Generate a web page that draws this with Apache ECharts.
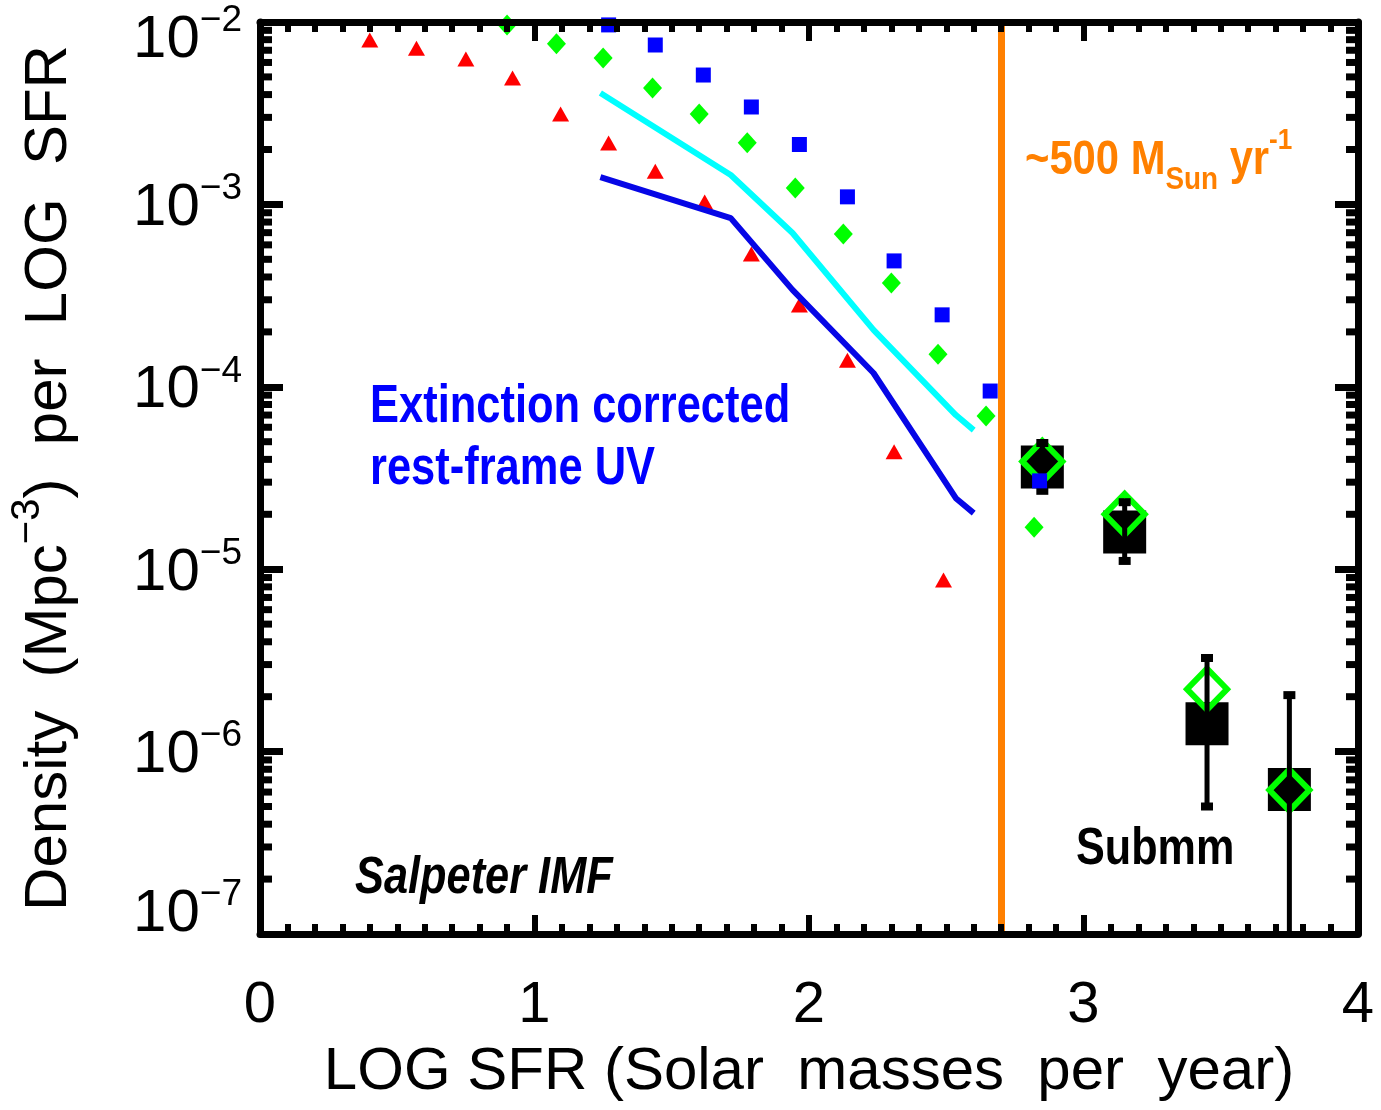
<!DOCTYPE html>
<html>
<head>
<meta charset="utf-8">
<script src="https://cdn.jsdelivr.net/npm/echarts@6/dist/echarts.min.js"></script>
<style>
  html, body { margin: 0; padding: 0; background: #fff; }
  #chart { width: 1381px; height: 1110px; }
</style>
</head>
<body>
<div id="chart"></div>
<script>
// Number density per LOG SFR (Mpc^-3) against LOG SFR (Msun / yr)

// red triangles
const redLogSfr  = [0.40, 0.57, 0.75, 0.92, 1.095, 1.27, 1.44, 1.62, 1.79, 1.965, 2.14, 2.31, 2.49];
const redDensity = [7.96e-3, 7.19e-3, 6.27e-3, 4.93e-3, 3.13e-3, 2.17e-3, 1.52e-3, 1.03e-3, 5.35e-4, 2.81e-4, 1.40e-4, 4.40e-5, 8.73e-6];

// green diamonds
const greenLogSfr  = [0.90, 1.08, 1.25, 1.43, 1.60, 1.775, 1.95, 2.125, 2.30, 2.47, 2.645, 2.82];
const greenDensity = [9.64e-3, 7.60e-3, 6.35e-3, 4.35e-3, 3.13e-3, 2.18e-3, 1.23e-3, 6.89e-4, 3.71e-4, 1.51e-4, 6.92e-5, 1.70e-5];

// blue squares
const blueLogSfr  = [1.27, 1.44, 1.615, 1.79, 1.965, 2.14, 2.31, 2.485, 2.66, 2.84];
const blueDensity = [9.64e-3, 7.48e-3, 5.12e-3, 3.42e-3, 2.13e-3, 1.10e-3, 4.90e-4, 2.48e-4, 9.48e-5, 3.05e-5];

// extinction-corrected rest-frame UV curves
const uvLogSfr       = [1.24, 1.715, 1.94, 2.235, 2.535, 2.60];
const uvCyanDensity  = [4.08e-3, 1.45e-3, 6.97e-4, 2.05e-4, 7.00e-5, 5.79e-5];
const uvBlueDensity  = [1.41e-3, 8.41e-4, 3.40e-4, 1.19e-4, 2.45e-5, 2.03e-5];

// submillimetre counts with error bars, and open-diamond comparison values
const submmLogSfr     = [2.85, 3.15, 3.45, 3.75];
const submmDensity    = [3.63e-5, 1.60e-5, 1.42e-6, 6.2e-7];
const submmErrLow     = [2.69e-5, 1.11e-5, 5.0e-7, 1e-9];
const submmErrHigh    = [4.92e-5, 2.33e-5, 3.26e-6, 2.04e-6];
const submmAltDensity = [3.9e-5, 2.0e-5, 2.2e-6, 6.15e-7];

// SFR threshold marked by the vertical line (Msun / yr)
const sfrLimit = 500;

// axis ranges
const xRange = [0, 4];
const yRange = [1e-7, 1e-2];

const zip = (xs, ys) => xs.map((x, i) => [x, ys[i]]);

// minor ticks of the logarithmic density axis (2..9 in every decade)
const yMinorTicks = [];
for (let e = Math.log10(yRange[0]); e < Math.log10(yRange[1]); e++) {
  for (let m = 2; m <= 9; m++) yMinorTicks.push(m * Math.pow(10, e));
}

const FONT = "'Liberation Sans', Arial, sans-serif";
const BOLD = "'Liberation Sans', Arial, sans-serif";

// "10" with a raised exponent; the end labels are nudged inside the frame
function yLabel(v) {
  const e = Math.round(Math.log10(v));
  const body = '{b|10}{s|\u2212' + Math.abs(e) + '}';
  if (e === Math.round(Math.log10(yRange[1]))) return '{gt| }\n' + body;
  if (e === Math.round(Math.log10(yRange[0]))) return body + '\n{gb| }';
  return body;
}

const frameLine = { show: true, onZero: false, lineStyle: { color: '#000', width: 7 } };

function xAxisDef(position, labels) {
  return {
    type: 'value', position, min: xRange[0], max: xRange[1], interval: 1, z: 10,
    axisLine: frameLine,
    axisTick: { show: true, inside: true, length: 19, lineStyle: { color: '#000', width: 6 } },
    minorTick: { show: true, splitNumber: 10, length: 10, lineStyle: { color: '#000', width: 6 } },
    splitLine: { show: false }, minorSplitLine: { show: false },
    axisLabel: labels
      ? { show: true, margin: 42, fontSize: 58, lineHeight: 60, color: '#000', fontFamily: FONT }
      : { show: false }
  };
}

function yAxisDef(position, labels) {
  return {
    type: 'log', logBase: 10, position, min: yRange[0], max: yRange[1], z: 10,
    axisLine: frameLine,
    axisTick: { show: true, inside: true, length: 23, lineStyle: { color: '#000', width: 7 } },
    splitLine: { show: false },
    axisLabel: labels ? {
      show: true, margin: 18, color: '#000', fontFamily: FONT,
      formatter: yLabel,
      rich: {
        b:  { fontSize: 60, lineHeight: 68, verticalAlign: 'bottom', fontFamily: FONT, color: '#000' },
        s:  { fontSize: 37, lineHeight: 20, verticalAlign: 'top', fontFamily: FONT, color: '#000' },
        gt: { fontSize: 10, lineHeight: 28 },
        gb: { fontSize: 10, lineHeight: 48 }
      }
    } : { show: false }
  };
}

const xMain = xAxisDef('bottom', true);
xMain.name = 'LOG SFR (Solar  masses  per  year)';
xMain.nameLocation = 'middle';
xMain.nameGap = 108;
xMain.nameTextStyle = { fontSize: 60, lineHeight: 60, color: '#000', fontFamily: FONT };

const yMain = yAxisDef('left', true);
yMain.name = '{n|Density  (Mpc}{s|\u22123}{n|)  per  LOG  SFR}';
yMain.nameLocation = 'middle';
yMain.nameGap = 181;
yMain.nameTextStyle = {
  rich: {
    n: { fontSize: 60, lineHeight: 71, verticalAlign: 'bottom', color: '#000', fontFamily: FONT },
    s: { fontSize: 40, lineHeight: 20, verticalAlign: 'top', color: '#000', fontFamily: FONT }
  }
};

const solid = { opacity: 1 };

const chart = echarts.init(document.getElementById('chart'), null, { renderer: 'canvas' });

chart.setOption({
  animation: false,
  backgroundColor: '#fff',
  grid: { left: 260, right: 23, top: 22, bottom: 176, containLabel: false, outerBoundsMode: 'none' },
  xAxis: [xMain, xAxisDef('top', false)],
  yAxis: [yMain, yAxisDef('right', false)],
  series: [
    {
      name: 'Submm', type: 'scatter', z: 2, silent: true,
      symbol: 'rect', symbolSize: 43,
      itemStyle: Object.assign({ color: '#000' }, solid),
      data: zip(submmLogSfr, submmDensity)
    },
    {
      name: 'Submm alt', type: 'scatter', z: 3, silent: true,
      symbol: 'diamond', symbolSize: [40, 41],
      itemStyle: { color: 'rgba(0,0,0,0)', borderColor: '#00ff00', borderWidth: 6, opacity: 1 },
      data: zip(submmLogSfr, submmAltDensity)
    },
    {
      name: 'Submm errors', type: 'custom', z: 4, silent: true, clip: true,
      data: submmLogSfr.map((x, i) => [x, submmErrLow[i], submmErrHigh[i]]),
      encode: { x: 0, y: [1, 2] },
      renderItem(params, api) {
        const x = api.value(0);
        const pLo = api.coord([x, api.value(1)]);
        const pHi = api.coord([x, api.value(2)]);
        return {
          type: 'group',
          children: [
            { type: 'line', shape: { x1: pHi[0], y1: pHi[1], x2: pLo[0], y2: pLo[1] },
              style: { stroke: '#000', lineWidth: 5 } },
            { type: 'rect', shape: { x: pHi[0] - 6, y: pHi[1] - 4, width: 12, height: 8 },
              style: { fill: '#000' } },
            { type: 'rect', shape: { x: pLo[0] - 6, y: pLo[1] - 4, width: 12, height: 8 },
              style: { fill: '#000' } }
          ]
        };
      }
    },
    {
      name: 'red', type: 'scatter', z: 5, silent: true,
      symbol: 'triangle', symbolSize: [17, 15],
      itemStyle: Object.assign({ color: '#ff0000' }, solid),
      data: zip(redLogSfr, redDensity)
    },
    {
      name: 'green', type: 'scatter', z: 5, silent: true,
      symbol: 'diamond', symbolSize: [19, 21],
      itemStyle: Object.assign({ color: '#00ff00' }, solid),
      data: zip(greenLogSfr, greenDensity)
    },
    {
      name: 'blue', type: 'scatter', z: 6, silent: true,
      symbol: 'rect', symbolSize: 15,
      itemStyle: Object.assign({ color: '#0000ff' }, solid),
      data: zip(blueLogSfr, blueDensity)
    },
    {
      name: 'UV cyan', type: 'line', z: 7, silent: true, symbol: 'none',
      lineStyle: { color: '#00ffff', width: 6 },
      data: zip(uvLogSfr, uvCyanDensity)
    },
    {
      name: 'UV corrected', type: 'line', z: 7, silent: true, symbol: 'none',
      lineStyle: { color: '#0606e6', width: 6 },
      data: zip(uvLogSfr, uvBlueDensity),
      markLine: {
        silent: true, symbol: 'none', label: { show: false },
        lineStyle: { color: '#ff8000', width: 7, type: 'solid' },
        data: [{ xAxis: Math.log10(sfrLimit) }]
      }
    },
    {
      name: 'minor ticks', type: 'custom', z: 20, silent: true, clip: false,
      data: yMinorTicks.map(v => [xRange[0], v]),
      encode: { x: 0, y: 1 },
      renderItem(params, api) {
        const v = api.value(1);
        const pL = api.coord([xRange[0], v]);
        const pR = api.coord([xRange[1], v]);
        return {
          type: 'group',
          children: [
            { type: 'line', shape: { x1: pL[0], y1: pL[1], x2: pL[0] + 12, y2: pL[1] },
              style: { stroke: '#000', lineWidth: 7 } },
            { type: 'line', shape: { x1: pR[0], y1: pR[1], x2: pR[0] - 12, y2: pR[1] },
              style: { stroke: '#000', lineWidth: 7 } }
          ]
        };
      }
    }
  ],
  graphic: [
    {
      type: 'text', x: 370, y: 376, scaleX: 0.82, silent: true,
      style: {
        text: 'Extinction corrected\nrest-frame UV',
        font: 'bold 53px ' + BOLD, lineHeight: 62,
        fill: '#0000ff', verticalAlign: 'top', align: 'left'
      }
    },
    {
      type: 'text', x: 355, y: 879, scaleX: 0.85, silent: true,
      style: {
        text: 'Salpeter IMF',
        font: 'italic bold 51px ' + BOLD,
        fill: '#000', verticalAlign: 'middle', align: 'left'
      }
    },
    {
      type: 'text', x: 1076, y: 850, scaleX: 0.83, silent: true,
      style: {
        text: 'Submm',
        font: 'bold 52px ' + BOLD,
        fill: '#000', verticalAlign: 'middle', align: 'left'
      }
    },
    {
      type: 'text', x: 1025, y: 126, scaleX: 0.87, silent: true,
      style: {
        text: '{m|~500 M}{s|Sun}{m| yr}{p|-1}',
        verticalAlign: 'top', align: 'left',
        rich: {
          m: { fontFamily: BOLD, fontWeight: 'bold', fontSize: 48, lineHeight: 70, fill: '#ff8000', color: '#ff8000' },
          s: { fontFamily: BOLD, fontWeight: 'bold', fontSize: 32, lineHeight: 26, verticalAlign: 'bottom', fill: '#ff8000', color: '#ff8000' },
          p: { fontFamily: BOLD, fontWeight: 'bold', fontSize: 30, lineHeight: 30, verticalAlign: 'top', fill: '#ff8000', color: '#ff8000' }
        }
      }
    }
  ]
});
</script>
</body>
</html>
